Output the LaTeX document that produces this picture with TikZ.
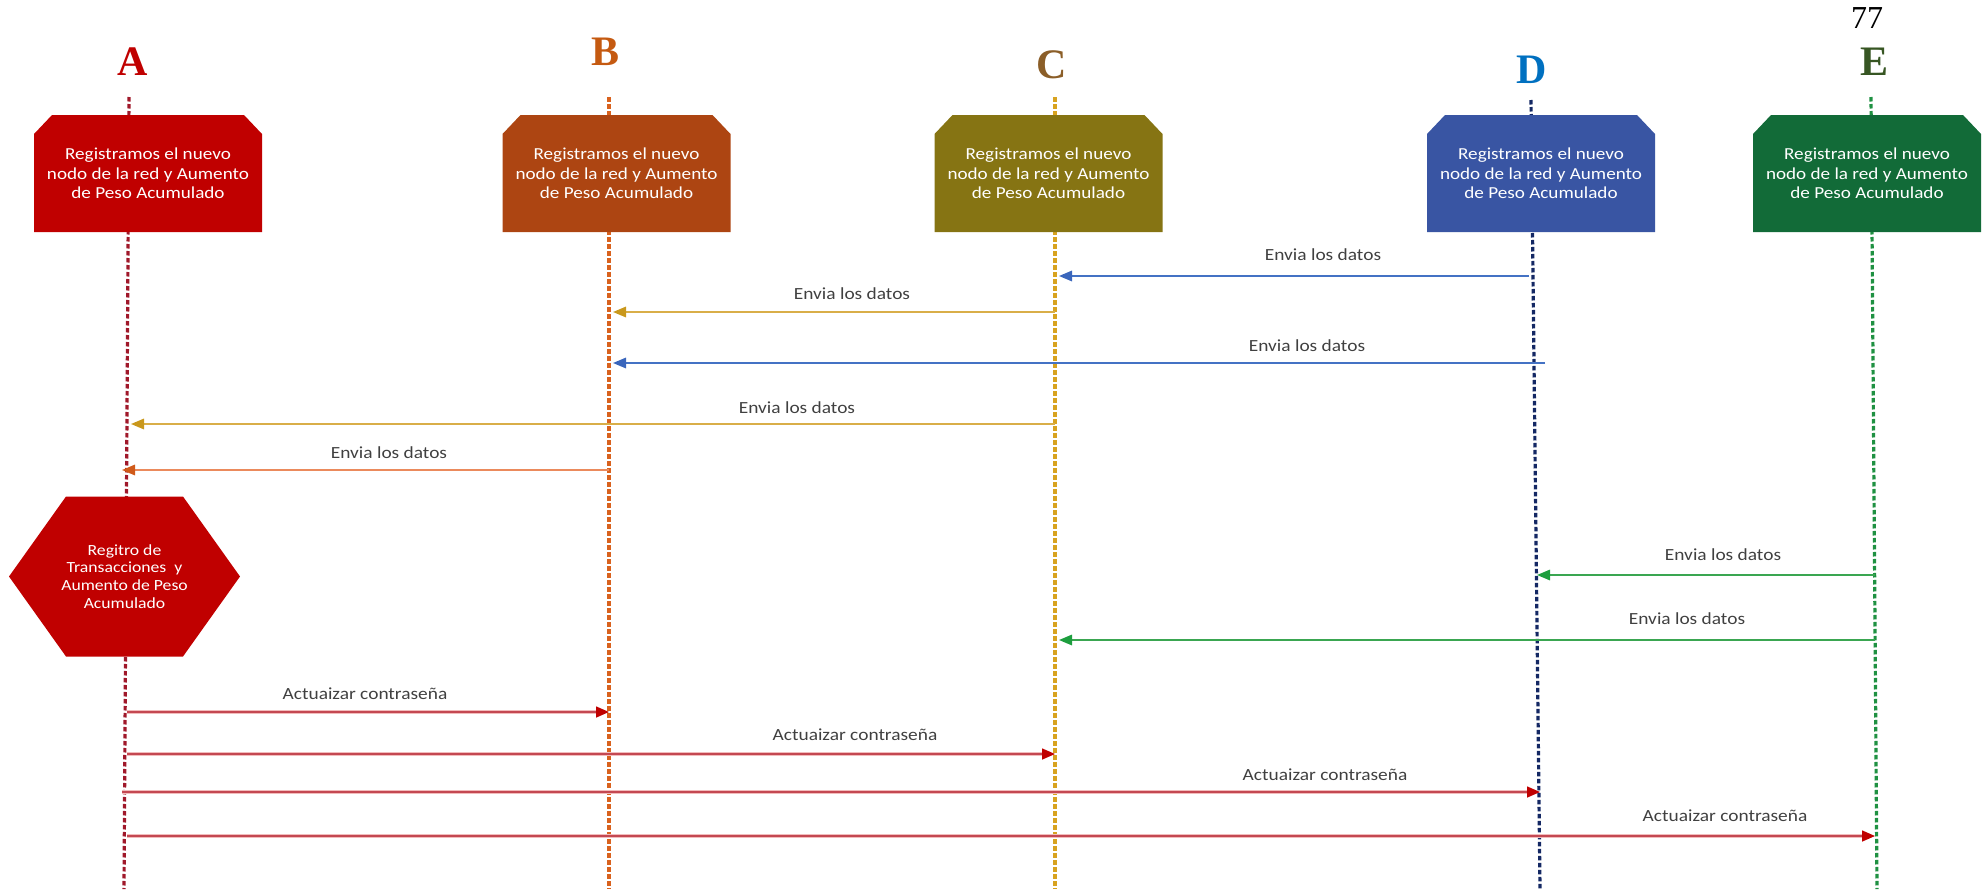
\documentclass[tikz,border=0pt]{standalone}
\usepackage{fontspec}
\setmainfont{Liberation Serif}
\newfontfamily\lblfont[FakeStretch=1.14]{Carlito}
\usetikzlibrary{arrows.meta,calc}

% box fills
\definecolor{boxA}{HTML}{C00000}
\definecolor{boxB}{HTML}{AD4512}
\definecolor{boxC}{HTML}{867413}
\definecolor{boxD}{HTML}{3955A3}
\definecolor{boxE}{HTML}{126B38}
% lifelines
\definecolor{lifeA}{HTML}{A0182A}
\definecolor{lifeB}{HTML}{D9621E}
\definecolor{lifeC}{HTML}{D8A320}
\definecolor{lifeD}{HTML}{142864}
\definecolor{lifeE}{HTML}{1F9142}
% headings
\definecolor{letA}{HTML}{C00000}
\definecolor{letB}{HTML}{C55A11}
\definecolor{letC}{HTML}{8B5E28}
\definecolor{letD}{HTML}{0070C0}
\definecolor{letE}{HTML}{375623}
% messages
\definecolor{msgblue}{HTML}{4472C4}
\definecolor{msgbluehead}{HTML}{3A66BC}
\definecolor{msggold}{HTML}{D9AE48}
\definecolor{msggoldhead}{HTML}{C9981C}
\definecolor{msgorange}{HTML}{EB8A5C}
\definecolor{msgorangehead}{HTML}{D05A1A}
\definecolor{msggreen}{HTML}{3AA651}
\definecolor{msggreenhead}{HTML}{1D9E3E}
\definecolor{actred}{HTML}{C44852}
\definecolor{actpink}{HTML}{F2BCBC}
\definecolor{headred}{HTML}{C00000}
\definecolor{lbl}{HTML}{404040}

\begin{document}
\begin{tikzpicture}[x=1pt,y=-1pt,
  lifeline/.style={line width=3.2pt, dash pattern=on 4.5pt off 2.5pt},
  regbox/.style={minimum width=228pt, minimum height=117pt, inner sep=0pt,
    text=white, align=center, font=\lblfont\fontsize{16.8}{19.3}\selectfont,
    path picture={\fill[#1]
      (path picture bounding box.south west)
      -- ([yshift=-19pt]path picture bounding box.north west)
      -- ([xshift=18pt]path picture bounding box.north west)
      -- ([xshift=-18pt]path picture bounding box.north east)
      -- ([yshift=-19pt]path picture bounding box.north east)
      -- (path picture bounding box.south east) -- cycle;}},
  hexbox/.style={minimum width=231pt, minimum height=160pt, inner sep=0pt,
    text=white, align=center, font=\lblfont\fontsize{15.5}{17.7}\selectfont,
    path picture={\fill[#1]
      (path picture bounding box.west)
      -- ([xshift=57pt]path picture bounding box.north west)
      -- ([xshift=-57pt]path picture bounding box.north east)
      -- (path picture bounding box.east)
      -- ([xshift=-57pt]path picture bounding box.south east)
      -- ([xshift=57pt]path picture bounding box.south west) -- cycle;}},
  heading/.style={font=\bfseries\fontsize{42}{42}\selectfont, anchor=base, inner sep=0pt},
  msg/.style={font=\lblfont\fontsize{17}{20}\selectfont, text=lbl, inner sep=0pt},
  sendarrow/.style={draw=#1, line width=1.6pt,
    -{Triangle[length=13pt,width=10.5pt,color=#1head]}},
  actarrow/.style={draw=actred, line width=1.5pt,
    preaction={draw=actpink, line width=4pt, -, shorten >=11pt},
    -{Triangle[length=13pt,width=11pt,color=headred]}}
]
\useasboundingbox (0,0) rectangle (1986,889);

% lifeline reference positions
\coordinate (lnA) at (127,97);
\coordinate (lnB) at (609,97);
\coordinate (lnC) at (1055,97);
\coordinate (lnD) at (1535,97);
\coordinate (lnE) at (1874,97);

% lifelines
\draw[lifeline, lifeA] (129,97) coordinate (Atop) -- (124,889) coordinate (Abot);
\draw[lifeline, lifeB] (609,97) coordinate (Btop) -- (609,889) coordinate (Bbot);
\draw[lifeline, lifeC] (1055,97) coordinate (Ctop) -- (1055,889) coordinate (Cbot);
\draw[lifeline, lifeD] (1531,100) coordinate (Dtop) -- (1540,889) coordinate (Dbot);
\draw[lifeline, lifeE] (1871,97) coordinate (Etop) -- (1877,889) coordinate (Ebot);

% headings
\node[heading, text=letA] (hA) at (133,75) {A};
\node[heading, text=letB] (hB) at (605,65) {B};
\node[heading, text=letC] (hC) at (1052,78) {C};
\node[heading, text=letD] (hD) at (1532,83) {D};
\node[heading, text=letE] (hE) at (1874,75) {E};
\node[font=\fontsize{32}{32}\selectfont, anchor=base, inner sep=0pt] (pg) at (1867,28) {77};

% registration boxes
\node[regbox=boxA] (bA) at (148,173.5) {Registramos el nuevo\\nodo de la red y Aumento\\de Peso Acumulado};
\node[regbox=boxB] (bB) at (616.5,173.5) {Registramos el nuevo\\nodo de la red y Aumento\\de Peso Acumulado};
\node[regbox=boxC] (bC) at (1048.5,173.5) {Registramos el nuevo\\nodo de la red y Aumento\\de Peso Acumulado};
\node[regbox=boxD] (bD) at (1541,173.5) {Registramos el nuevo\\nodo de la red y Aumento\\de Peso Acumulado};
\node[regbox=boxE] (bE) at (1867,173.5) {Registramos el nuevo\\nodo de la red y Aumento\\de Peso Acumulado};

% transaction record
\node[hexbox=boxA] (hex) at (124.5,576.5) {Regitro de\\Transacciones\ \ y\\Aumento de Peso\\Acumulado};

% message rows
\coordinate (r1) at (0,276);
\coordinate (r2) at (0,312);
\coordinate (r3) at (0,363);
\coordinate (r4) at (0,424);
\coordinate (r5) at (0,470);
\coordinate (r6) at (0,575);
\coordinate (r7) at (0,640);
\coordinate (r8) at (0,712);
\coordinate (r9) at (0,754);
\coordinate (r10) at (0,792);
\coordinate (r11) at (0,836);

% data sent between nodes
\draw[sendarrow=msgblue] ($(lnD |- r1)+(-6,0)$) -- ($(lnC |- r1)+(4,0)$);
\node[msg] (m1) at (1323,255) {Envia los datos};
\draw[sendarrow=msggold] (lnC |- r2) -- ($(lnB |- r2)+(4,0)$);
\node[msg] (m2) at (852,294) {Envia los datos};
\draw[sendarrow=msgblue] ($(lnD |- r3)+(10,0)$) -- ($(lnB |- r3)+(4,0)$);
\node[msg] (m3) at (1307,346) {Envia los datos};
\draw[sendarrow=msggold] (lnC |- r4) -- ($(lnA |- r4)+(4,0)$);
\node[msg] (m4) at (797,408) {Envia los datos};
\draw[sendarrow=msgorange] (lnB |- r5) -- ($(lnA |- r5)+(-5,0)$);
\node[msg] (m5) at (389,453) {Envia los datos};
\draw[sendarrow=msggreen] ($(lnE |- r6)+(1,0)$) -- ($(lnD |- r6)+(2,0)$);
\node[msg] (m6) at (1723,555) {Envia los datos};
\draw[sendarrow=msggreen] ($(lnE |- r7)+(1,0)$) -- ($(lnC |- r7)+(4,0)$);
\node[msg] (m7) at (1687,619) {Envia los datos};

% password updates
\draw[actarrow] (lnA |- r8) -- (lnB |- r8);
\node[msg] (m8) at (365,694) {Actuaizar contraseña};
\draw[actarrow] (lnA |- r9) -- (lnC |- r9);
\node[msg] (m9) at (855,735) {Actuaizar contraseña};
\draw[actarrow] ($(lnA |- r10)+(-5,0)$) -- ($(lnD |- r10)+(5,0)$);
\node[msg] (m10) at (1325,775) {Actuaizar contraseña};
\draw[actarrow] (lnA |- r11) -- ($(lnE |- r11)+(1,0)$);
\node[msg] (m11) at (1725,816) {Actuaizar contraseña};
\end{tikzpicture}
\end{document}
